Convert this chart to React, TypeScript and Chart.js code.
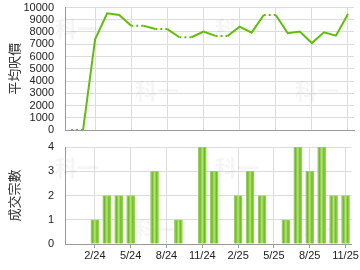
import React, { useEffect, useRef } from 'react';
import Chart from 'chart.js/auto';

const months = ['12/23', '1/24', '2/24', '3/24', '4/24', '5/24', '6/24', '7/24', '8/24', '9/24', '10/24', '11/24',
  '12/24', '1/25', '2/25', '3/25', '4/25', '5/25', '6/25', '7/25', '8/25', '9/25', '10/25', '11/25'];
const avgPrice = [0, 0, 7400, 9530, 9390, 8520, 8520, 8240, 8240, 7570, 7570, 8030,
  7680, 7680, 8440, 7950, 9390, 9390, 7900, 8030, 7100, 7980, 7700, 9470];
const dealCount = [0, 0, 1, 2, 2, 2, 0, 3, 0, 1, 0, 4, 3, 0, 2, 3, 2, 0, 1, 4, 3, 4, 2, 2];
const labelledMonths = ['2/24', '5/24', '8/24', '11/24', '2/25', '5/25', '8/25', '11/25'];
const priceTitle = '平均呎價';
const countTitle = '成交宗數';
const watermark = '科一';

const tickFont = { family: '"Liberation Sans", Arial, sans-serif', size: 11 };
const titleFont = { family: '"Noto Sans CJK TC", "Noto Sans CJK SC", sans-serif', size: 13 };

const isLabelled = (i: number) => labelledMonths.includes(months[i]);

const watermarkPlugin = {
  id: 'wm',
  beforeDatasetsDraw(chart: any) {
    const { ctx, chartArea } = chart;
    ctx.save();
    ctx.font = 'bold 22px "Noto Sans CJK TC", sans-serif';
    ctx.fillStyle = 'rgba(0,0,0,0.04)';
    ctx.textBaseline = 'top';
    const spots = [[-10, 10], [70, 72], [150, 10], [230, 72]];
    spots.forEach(([dx, dy]) => ctx.fillText(watermark, chartArea.left + dx, chartArea.top + dy));
    ctx.restore();
  },
};

function makeXScale(showLabels: boolean, height: number) {
  return {
    offset: true,
    afterFit: (s: any) => { s.height = height; },
    grid: {
      offset: false,
      color: (c: any) => (isLabelled(c.index) ? '#dcdcdc' : 'rgba(0,0,0,0)'),
      tickColor: (c: any) => (isLabelled(c.index) ? '#999' : 'rgba(0,0,0,0)'),
      drawTicks: showLabels,
      tickLength: 4,
    },
    border: { color: '#999' },
    ticks: {
      display: showLabels,
      autoSkip: false,
      maxRotation: 0,
      padding: 1,
      color: '#222',
      font: tickFont,
      callback: (_v: any, i: number) => (isLabelled(i) ? months[i] : ''),
    },
  };
}

function makeYScale(max: number, step: number, title: string) {
  return {
    min: 0,
    max,
    afterFit: (s: any) => { s.width = 65; s.paddingTop = 0; s.paddingBottom = 0; },
    grid: { color: '#dcdcdc', drawTicks: true, tickLength: 10, tickColor: 'rgba(0,0,0,0)' },
    border: { color: '#999' },
    ticks: {
      stepSize: step, autoSkip: false, padding: 1, color: '#222', font: tickFont,
      callback: (v: any) => String(v),
    },
    title: { display: true, text: title, color: '#333', font: titleFont, padding: { top: 6, bottom: 0 } },
  };
}

export default function App() {
  const topRef = useRef<HTMLCanvasElement>(null);
  const botRef = useRef<HTMLCanvasElement>(null);

  useEffect(() => {
    const top = new Chart(topRef.current!, {
      type: 'line',
      data: {
        labels: months,
        datasets: [{
          data: avgPrice,
          borderColor: '#62bd0b',
          borderWidth: 2,
          pointRadius: 0,
          tension: 0,
          segment: {
            borderDash: (c: any) => (dealCount[c.p1DataIndex] === 0 ? [2, 3] : undefined),
          },
        }],
      },
      options: {
        animation: false,
        responsive: false,
        devicePixelRatio: 1,
        layout: { padding: { top: 7.5, right: 6, left: 0, bottom: 0 } },
        plugins: { legend: { display: false }, tooltip: { enabled: false } },
        scales: { x: makeXScale(false, 10) as any, y: makeYScale(10000, 1000, priceTitle) as any },
      },
      plugins: [watermarkPlugin],
    });

    const bot = new Chart(botRef.current!, {
      type: 'bar',
      data: {
        labels: months,
        datasets: [{
          data: dealCount,
          barThickness: 8,
          borderWidth: 1,
          borderColor: '#96d156',
          backgroundColor: (c: any) => {
            const chart = c.chart;
            const xs = chart.scales && chart.scales.x;
            if (!xs || c.dataIndex === undefined) return '#8cc63f';
            const cx = xs.getPixelForValue(c.dataIndex);
            if (!Number.isFinite(cx)) return '#8cc63f';
            const g = chart.ctx.createLinearGradient(cx - 4, 0, cx + 4, 0);
            g.addColorStop(0, '#a8dc6a');
            g.addColorStop(0.22, '#6cba20');
            g.addColorStop(0.5, '#b8e47e');
            g.addColorStop(0.78, '#6cba20');
            g.addColorStop(1, '#a8dc6a');
            return g;
          },
        }],
      },
      options: {
        animation: false,
        responsive: false,
        devicePixelRatio: 1,
        layout: { padding: { top: 12, right: 6, left: 0, bottom: 0 } },
        plugins: { legend: { display: false }, tooltip: { enabled: false } },
        scales: { x: makeXScale(true, 26) as any, y: makeYScale(4, 1, countTitle) as any },
      },
      plugins: [watermarkPlugin],
    });

    return () => { top.destroy(); bot.destroy(); };
  }, []);

  return (
    <div style={{ position: 'absolute', left: 0, top: 0, width: 360, height: 270, background: '#fff' }}>
      <canvas ref={topRef} width={360} height={140} style={{ position: 'absolute', left: 0, top: 0 }} />
      <canvas ref={botRef} width={360} height={135} style={{ position: 'absolute', left: 0, top: 135 }} />
    </div>
  );
}
